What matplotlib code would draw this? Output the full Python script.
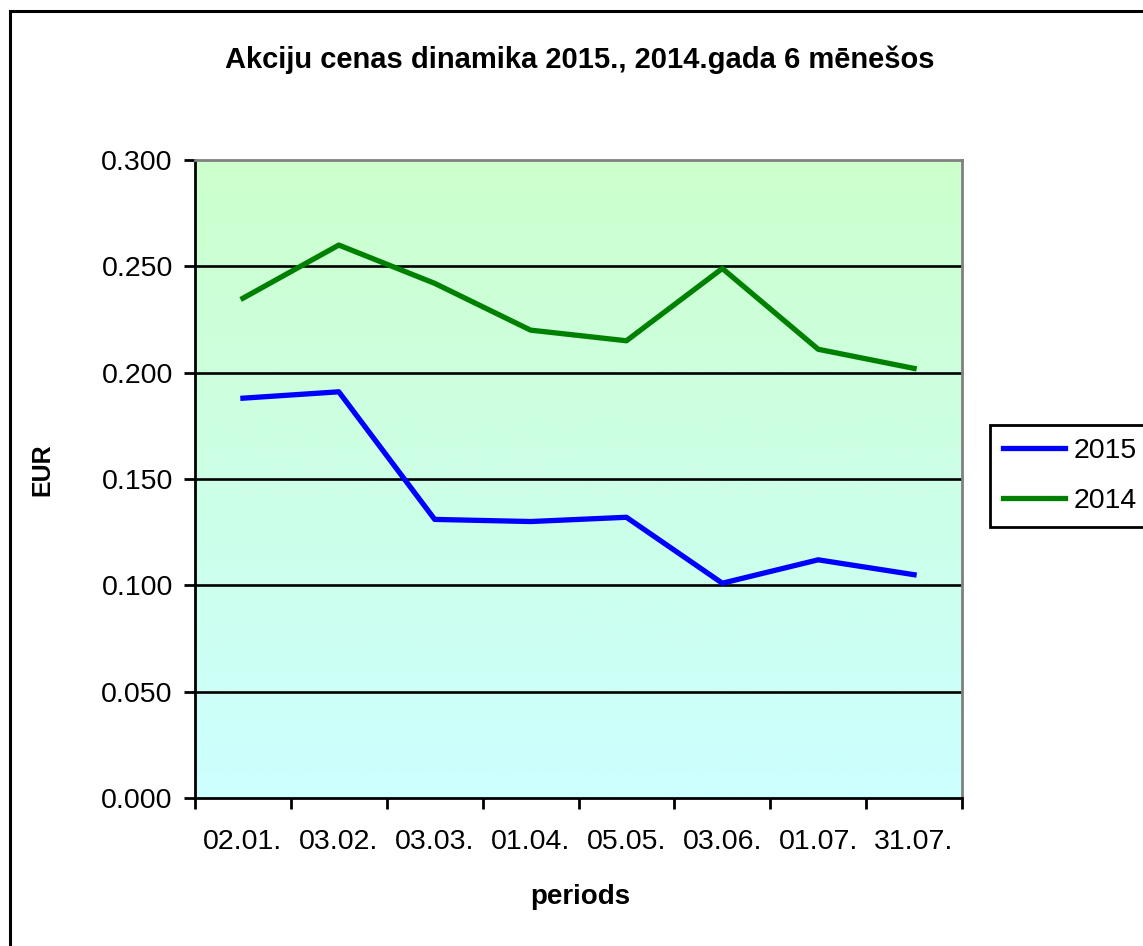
import matplotlib.pyplot as plt
import numpy as np
from matplotlib.patches import Rectangle

periodi = ['02.01.', '03.02.', '03.03.', '01.04.', '05.05.', '03.06.', '01.07.', '31.07.']
cenas_2015 = [0.188, 0.191, 0.131, 0.130, 0.132, 0.101, 0.112, 0.105]
cenas_2014 = [0.235, 0.260, 0.242, 0.220, 0.215, 0.249, 0.211, 0.202]

plt.rcParams['font.family'] = ['Liberation Sans', 'DejaVu Sans']

W, H = 1143, 946
fig = plt.figure(figsize=(W / 100, H / 100), dpi=100)
# plot area in pixels: left 195, right 962, top 160, bottom 798
ax = fig.add_axes([195 / W, 1 - 798 / H, (962 - 195) / W, (798 - 160) / H])

# outer chart border (cut off at right/bottom like the original)
fig.patches.append(Rectangle((10 / W, -0.01), 1.05, 1 - 11 / H + 0.01, transform=fig.transFigure,
                             fill=False, edgecolor='black', linewidth=2.2))

# gradient background green -> cyan
grad = np.linspace(0, 1, 256).reshape(-1, 1)
top = np.array([0xcc, 0xff, 0xcc]) / 255
bot = np.array([0xcc, 0xff, 0xff]) / 255
img = top + grad[..., None] * (bot - top)
ax.imshow(img, extent=[0, 1, 0, 1], transform=ax.transAxes, aspect='auto', zorder=0)

x = np.arange(1, len(periodi) + 1)
ax.plot(x, cenas_2015, color='#0000ff', linewidth=3.8, label='2015', zorder=3)
ax.plot(x, cenas_2014, color='#008000', linewidth=3.8, label='2014', zorder=3)

ax.set_xlim(0.5, len(periodi) + 0.5)
ax.set_ylim(0, 0.3)
yt = np.arange(0, 0.301, 0.05)
ax.set_yticks(yt)
ax.set_yticklabels(['%.3f' % v for v in yt])
for v in yt[1:-1]:
    ax.axhline(v, color='black', linewidth=1.9, zorder=2)

ax.set_xticks(np.arange(0.5, len(periodi) + 1, 1))
ax.set_xticklabels([])
ax.set_xticks(x, minor=True)
ax.set_xticklabels(periodi, minor=True)
ax.tick_params(axis='x', which='minor', length=0, pad=22, labelsize=20.5)
ax.tick_params(axis='x', which='major', length=8, width=2, direction='out')
ax.tick_params(axis='y', length=8, width=2, direction='out', labelsize=20.5, pad=8)

ax.spines['left'].set_linewidth(2)
ax.spines['bottom'].set_linewidth(2)
ax.spines['top'].set_color('#808080')
ax.spines['right'].set_color('#808080')
ax.spines['top'].set_linewidth(2)
ax.spines['right'].set_linewidth(2)

fig.text(580 / W, 1 - 60 / H, 'Akciju cenas dinamika 2015., 2014.gada 6 mēnešos',
         ha='center', va='center', fontsize=21, fontweight='bold')
fig.text(42 / W, 1 - 470 / H, 'EUR', ha='center', va='center', rotation=90,
         fontsize=18, fontweight='bold')
fig.text(580 / W, 1 - 897 / H, 'periods', ha='center', va='center',
         fontsize=20, fontweight='bold')

leg = fig.legend(loc='upper left', bbox_to_anchor=(990 / W, 1 - 425 / H), fontsize=20.5,
                 frameon=True, fancybox=False, edgecolor='black', framealpha=1,
                 handlelength=2.2, borderpad=0.45, labelspacing=0.85, handletextpad=0.3,
                 borderaxespad=0)
leg.get_frame().set_linewidth(2)

fig.savefig('out.png', dpi=100)
